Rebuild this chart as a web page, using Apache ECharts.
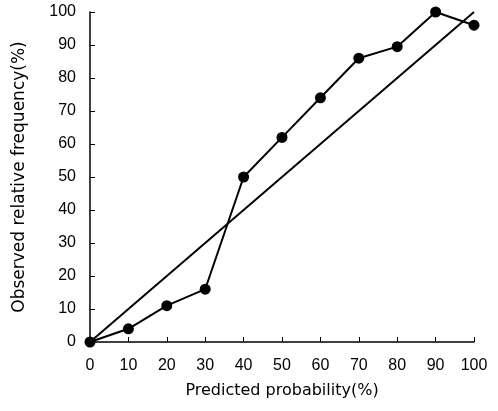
<!DOCTYPE html>
<html><head><meta charset="utf-8">
<script src="https://cdn.jsdelivr.net/npm/echarts@6/dist/echarts.min.js"></script>
<style>html,body{margin:0;padding:0;background:#fff}#c{width:498px;height:411px}</style>
</head><body><div id="c"></div>
<script>
const predicted = [0, 10, 20, 30, 40, 50, 60, 70, 80, 90, 100];
const observed = [0, 4, 11, 16, 50, 62, 74, 86, 89.5, 100, 96];
const diagonal = [[0, 0], [100, 100]];
const xTicks = [0, 10, 20, 30, 40, 50, 60, 70, 80, 90, 100];
const yTicks = [0, 10, 20, 30, 40, 50, 60, 70, 80, 90, 100];

const chart = echarts.init(document.getElementById('c'), null, {renderer: 'canvas'});
const font = 'Liberation Sans, Arial, sans-serif';
const titleFont = 'DejaVu Sans, sans-serif';
chart.setOption({
  animation: false,
  grid: {left: 90, right: 24, top: 12, bottom: 69},
  xAxis: {
    type: 'value', min: 0, max: 100, interval: 10,
    name: 'Predicted probability(%)', nameLocation: 'middle', nameGap: 41,
    nameTextStyle: {color: '#000', fontSize: 16, fontFamily: titleFont},
    axisLine: {lineStyle: {color: '#000', width: 1.5}},
    axisTick: {inside: true, length: 5, lineStyle: {color: '#000'}},
    axisLabel: {color: '#000', fontSize: 16, fontFamily: font, margin: 16},
    splitLine: {show: false}
  },
  yAxis: {
    type: 'value', min: 0, max: 100, interval: 10,
    name: 'Observed relative frequency(%)', nameLocation: 'middle', nameGap: 62,
    nameTextStyle: {color: '#000', fontSize: 17, fontFamily: titleFont},
    axisLine: {show: true, lineStyle: {color: '#000', width: 1.5}},
    axisTick: {show: true, inside: true, length: 5, lineStyle: {color: '#000'}},
    axisLabel: {color: '#000', fontSize: 16, fontFamily: font, margin: 14},
    splitLine: {show: false}
  },
  series: [
    {
      type: 'line', data: diagonal, symbol: 'none',
      lineStyle: {color: '#000', width: 2}
    },
    {
      type: 'line', data: predicted.map((x, i) => [x, observed[i]]),
      symbol: 'circle', symbolSize: 11,
      itemStyle: {color: '#000'},
      lineStyle: {color: '#000', width: 2}
    }
  ]
});
</script></body></html>
